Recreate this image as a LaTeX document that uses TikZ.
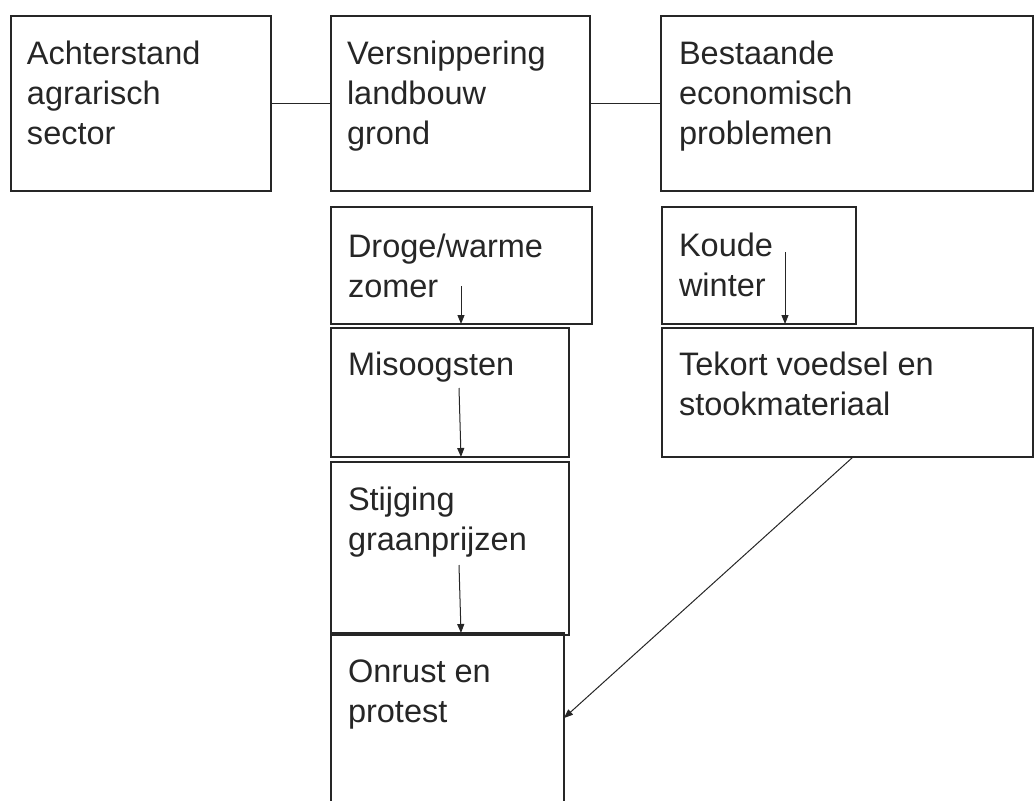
\documentclass[tikz,border=0pt]{standalone}
\usepackage{fontspec}
\setmainfont{Liberation Sans}
\usetikzlibrary{arrows.meta,calc}
\begin{document}
\begin{tikzpicture}[x=1pt,y=-1pt,
  box/.style={draw=black!85, line width=1.3pt, inner sep=0pt, outer sep=0pt},
  lbl/.style={anchor=north west, inner sep=0pt, outer sep=0pt, align=left,
    font=\fontsize{32.5}{40}\selectfont, text=black!85},
  link/.style={draw=black!85, line width=1.1pt},
  arr/.style={draw=black!85, line width=1pt, -{Triangle[length=9pt,width=7pt]}}]
\useasboundingbox (0,0) rectangle (1035,800);
\clip (0,0) rectangle (1035,800);
% boxes
\node[box, minimum width=260pt, minimum height=175pt] (b1) at (141,103.5) {};
\node[box, minimum width=259pt, minimum height=175pt] (b2) at (460.5,103.5) {};
\node[box, minimum width=372pt, minimum height=175pt] (b3) at (847,103.5) {};
\node[box, minimum width=261pt, minimum height=117pt] (b4) at (461.5,265.5) {};
\node[box, minimum width=194pt, minimum height=117pt] (b5) at (759,265.5) {};
\node[box, minimum width=238pt, minimum height=129pt] (b6) at (450,392.5) {};
\node[box, minimum width=371pt, minimum height=129pt] (b7) at (847.5,392.5) {};
\node[box, minimum width=238pt, minimum height=173pt] (b8) at (450,548.5) {};
\node[box, minimum width=233pt, minimum height=187pt] (b9) at (447.5,726.5) {};
% texts
\node[lbl] (t1) at (27,36) {\strut Achterstand\\\strut agrarisch\\\strut sector};
\node[lbl] (t2) at (347,36) {\strut Versnippering\\\strut landbouw\\\strut grond};
\node[lbl] (t3) at (679,36) {\strut Bestaande\\\strut economisch\\\strut problemen};
\node[lbl] (t4) at (348,229) {\strut Droge/warme\\\strut zomer};
\node[lbl] (t5) at (679,228) {\strut Koude\\\strut winter};
\node[lbl] (t6) at (348,347) {\strut Misoogsten};
\node[lbl] (t7) at (679,347) {\strut Tekort voedsel en\\\strut stookmateriaal};
\node[lbl] (t8) at (348,482) {\strut Stijging\\\strut graanprijzen};
\node[lbl] (t9) at (348,654) {\strut Onrust en\\\strut protest};
% connectors
\draw[link] (b1.east) -- (b2.west);
\draw[link] (b2.east) -- (b3.west);
\coordinate (a1s) at (461,286);
\coordinate (a2s) at (459,388);
\coordinate (a2e) at (461,457);
\coordinate (a3s) at (459,565);
\coordinate (a3e) at (461,633);
\coordinate (a4s) at (785,252);
\coordinate (a5s) at (853,457);
\coordinate (a5e) at (564,718);
\draw[arr] (a1s) -- (a1s |- b4.south);
\draw[arr] (a2s) -- (a2e);
\draw[arr] (a3s) -- (a3e);
\draw[arr] (a4s) -- (a4s |- b5.south);
\draw[arr] (a5s) -- (a5e);
\end{tikzpicture}
\end{document}
